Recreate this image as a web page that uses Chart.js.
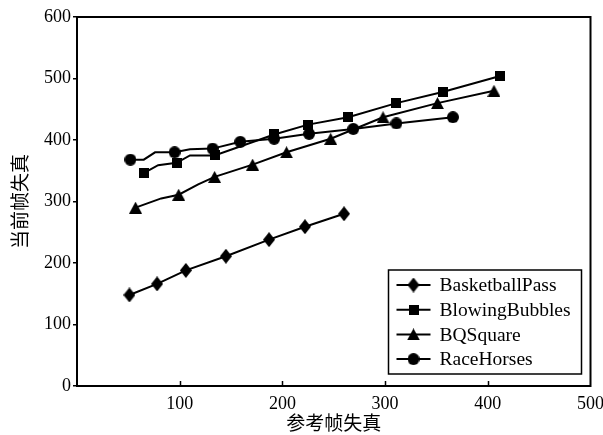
<!DOCTYPE html>
<html>
<head>
<meta charset="utf-8">
<script src="https://cdn.jsdelivr.net/npm/chart.js@4.4.1/dist/chart.umd.min.js"></script>
<style>
  html, body { margin: 0; padding: 0; background: #fff; }
  #wrap { width: 603px; height: 435px; }
</style>
</head>
<body>
<div id="wrap"><canvas id="c"></canvas></div>
<script>
// Distortion of reference frame (x) vs. current frame (y), four sequences.
const seriesNames = ['BasketballPass', 'BlowingBubbles', 'BQSquare', 'RaceHorses'];
const markerKinds = ['diamond', 'square', 'triangle', 'circle'];

const basketX = [51, 78, 106, 145, 187, 222, 260];
const basketY = [148, 166, 188, 211, 238, 259, 280];
const basketMark = [1, 1, 1, 1, 1, 1, 1];

const bubblesX = [65, 79, 97, 110, 134, 192, 225, 264, 311, 356, 412];
const bubblesY = [346, 359, 363, 375, 375, 409, 425, 437, 460, 478, 504];
const bubblesMark = [1, 0, 1, 0, 1, 1, 1, 1, 1, 1, 1];

const bqX = [57, 82, 99, 118, 134, 171, 204, 247, 298, 351, 406];
const bqY = [290, 305, 311, 328, 340, 360, 380, 402, 437, 460, 480];
const bqMark = [1, 0, 1, 0, 1, 1, 1, 1, 1, 1, 1];

const raceX = [52, 65, 76, 95, 110, 132, 159, 192, 226, 269, 311, 366];
const raceY = [368, 368, 380, 380, 385, 386, 397, 402, 410, 418, 427, 437];
const raceMark = [1, 0, 0, 1, 0, 1, 1, 1, 1, 1, 1, 1];

const xTicks = [0, 100, 200, 300, 400, 500];
const yTicks = [0, 100, 200, 300, 400, 500, 600];
const xTitle = '参考帧失真';
const yTitle = '当前帧失真';

// Solid black marker glyphs
function makeMarker(kind) {
  const dims = { diamond: [12, 15], square: [10, 10], triangle: [13, 12], circle: [12, 12] }[kind];
  const c = document.createElement('canvas');
  const w = dims[0], h = dims[1];
  c.width = w; c.height = h;
  const g = c.getContext('2d');
  g.fillStyle = '#000';
  g.beginPath();
  if (kind === 'diamond') {
    g.moveTo(w / 2, 0); g.lineTo(w, h / 2); g.lineTo(w / 2, h); g.lineTo(0, h / 2);
  } else if (kind === 'square') {
    g.rect(0, 0, w, h);
  } else if (kind === 'triangle') {
    g.moveTo(w / 2, 0); g.lineTo(w, h); g.lineTo(0, h);
  } else {
    g.arc(w / 2, h / 2, w / 2, 0, Math.PI * 2);
  }
  g.closePath();
  g.fill();
  return c;
}
const markers = markerKinds.map(makeMarker);

function buildDataset(i, xs, ys, marks) {
  return {
    label: seriesNames[i],
    data: xs.map((x, k) => ({ x: x, y: ys[k] })),
    borderColor: '#000',
    backgroundColor: '#000',
    borderWidth: 2,
    tension: 0,
    pointStyle: markers[i],
    pointRadius: marks.map(m => (m ? 6 : 0)),
    pointHoverRadius: marks.map(m => (m ? 6 : 0))
  };
}

const datasets = [
  buildDataset(0, basketX, basketY, basketMark),
  buildDataset(1, bubblesX, bubblesY, bubblesMark),
  buildDataset(2, bqX, bqY, bqMark),
  buildDataset(3, raceX, raceY, raceMark)
];

// Plot frame, inward x tick marks and the boxed legend
const framePlugin = {
  id: 'frameAndLegend',
  afterDraw(chart) {
    const ctx = chart.ctx;
    const a = chart.chartArea;
    ctx.save();
    ctx.strokeStyle = '#000';
    ctx.lineWidth = 2;
    ctx.strokeRect(a.left, a.top, a.right - a.left, a.bottom - a.top);

    const xs = chart.scales.x;
    ctx.lineWidth = 1.5;
    xs.ticks.forEach(t => {
      if (t.value <= xs.min || t.value >= xs.max) return;
      const px = Math.round(xs.getPixelForValue(t.value)) + 0.5;
      ctx.beginPath();
      ctx.moveTo(px, a.bottom);
      ctx.lineTo(px, a.bottom - 5);
      ctx.stroke();
    });

    // legend box
    const bx = a.right - 202, by = a.top + 253, bw = 193, bh = 104;
    ctx.fillStyle = '#fff';
    ctx.fillRect(bx, by, bw, bh);
    ctx.lineWidth = 1.5;
    ctx.strokeRect(bx, by, bw, bh);
    ctx.font = '19.5px "Liberation Serif", "Times New Roman", serif';
    ctx.textBaseline = 'middle';
    ctx.textAlign = 'left';
    ctx.fillStyle = '#000';
    chart.data.datasets.forEach((ds, i) => {
      const cy = by + 15 + i * 24.7;
      ctx.lineWidth = 2;
      ctx.beginPath();
      ctx.moveTo(bx + 8, cy);
      ctx.lineTo(bx + 42, cy);
      ctx.stroke();
      const m = markers[i];
      ctx.drawImage(m, bx + 25 - m.width / 2, cy - m.height / 2);
      ctx.fillText(ds.label, bx + 51, cy + 1);
    });
    ctx.restore();
  }
};

const serif = '"Liberation Serif", "Times New Roman", serif';
const cjk = '"Noto Sans CJK SC", sans-serif';

new Chart(document.getElementById('c'), {
  type: 'line',
  data: { datasets: datasets },
  plugins: [framePlugin],
  options: {
    responsive: true,
    maintainAspectRatio: false,
    animation: false,
    events: [],
    layout: { padding: { top: 17, right: 10, left: 0, bottom: 0 } },
    plugins: { legend: { display: false }, tooltip: { enabled: false } },
    scales: {
      x: {
        type: 'linear',
        min: 0,
        max: 500,
        afterBuildTicks: s => { s.ticks = xTicks.map(v => ({ value: v })); },
        afterFit: s => { s.height = 49; },
        grid: { display: false },
        border: { display: false },
        ticks: {
          color: '#000',
          font: { family: serif, size: 18 },
          padding: -1,
          maxRotation: 0,
          callback: v => (v === 0 ? '' : String(v))
        },
        title: {
          display: true,
          text: xTitle,
          color: '#000',
          font: { family: cjk, size: 19 },
          padding: { top: 0, bottom: 1 }
        }
      },
      y: {
        type: 'linear',
        min: 0,
        max: 600,
        afterBuildTicks: s => { s.ticks = yTicks.map(v => ({ value: v })); },
        afterFit: s => { s.width = 77; },
        grid: { drawOnChartArea: false, drawTicks: true, tickLength: 4, color: '#000', lineWidth: 1.5 },
        border: { display: false },
        ticks: {
          color: '#000',
          font: { family: serif, size: 18 },
          padding: 2
        },
        title: {
          display: true,
          text: yTitle,
          color: '#000',
          font: { family: cjk, size: 19 },
          padding: { top: 8, bottom: 0 }
        }
      }
    }
  }
});
</script>
</body>
</html>
